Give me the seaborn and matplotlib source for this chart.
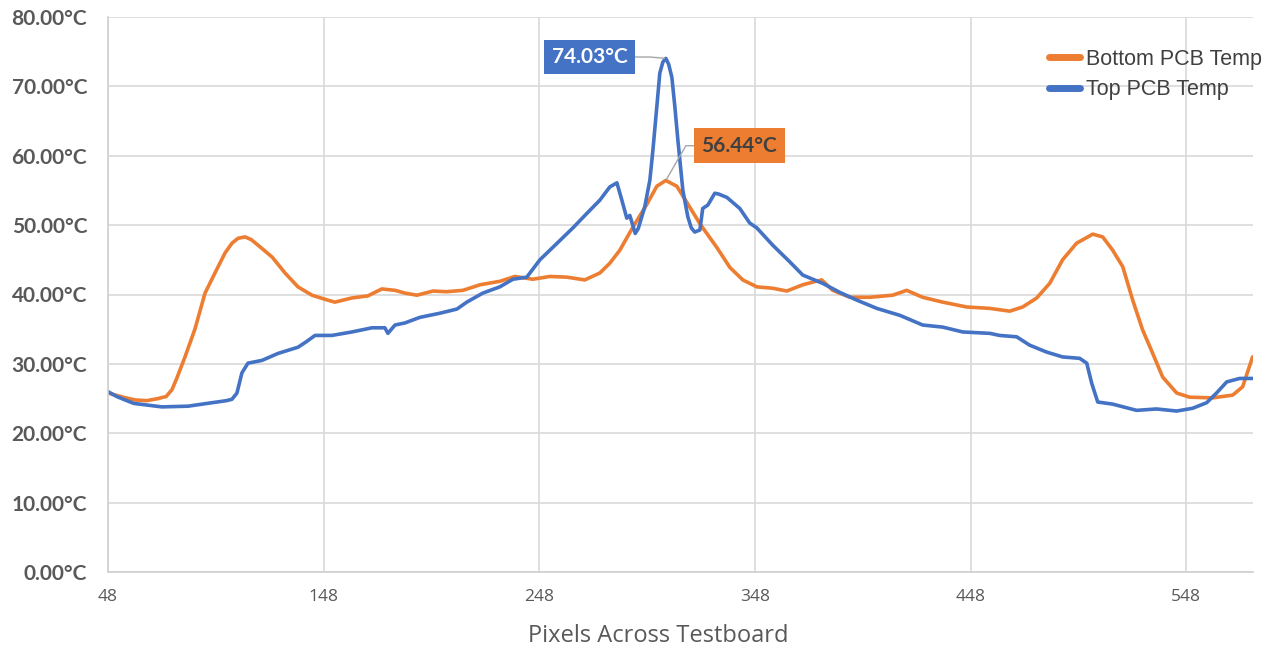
import numpy as np
import pandas as pd
import matplotlib
matplotlib.use("Agg")
import matplotlib.pyplot as plt
import seaborn as sns
from matplotlib.lines import Line2D

# Bottom PCB Temp (orange)
bottom_x = [48, 55, 60.5, 66, 71.2, 75, 77.7, 80, 83.7, 88.3, 93.0, 97.6, 102.3, 105.5, 108.3,
            111.6, 114.5, 117.6, 124.1, 130.1, 136.1, 142.6, 148.7, 153.2, 161.1, 168.5, 175.0,
            181.1, 185.7, 191.3, 198.7, 205, 212.6, 220.5, 229.7, 236.7, 245.0, 252.9, 260.8,
            269.1, 276.1, 280.7, 285.4, 291.4, 297.9, 302.5, 306.7, 311.8, 316.4, 322.5, 325.7,
            330.3, 336.4, 342.4, 348.9, 356.3, 362.8, 370.2, 375, 379.0, 384.1, 392.0, 401.3,
            411.9, 418.4, 425.8, 435.1, 446.2, 456.9, 466.2, 472.2, 478.7, 484.7, 490.7, 497.2,
            504.7, 509.3, 513.9, 518.6, 523.2, 527.8, 532.5, 537.1, 543.6, 549.6, 560.3, 569.6,
            574.2, 578.8]
bottom_y = [25.8, 25.2, 24.8, 24.7, 25.0, 25.3, 26.3, 28.0, 31.0, 35.0, 40.2, 43.1, 46.0, 47.4, 48.1,
            48.3, 47.9, 47.1, 45.4, 43.1, 41.1, 39.9, 39.3, 38.9, 39.5, 39.8, 40.8,
            40.6, 40.2, 39.9, 40.5, 40.4, 40.6, 41.4, 41.9, 42.6, 42.2, 42.6, 42.5,
            42.1, 43.1, 44.5, 46.4, 49.7, 53.0, 55.6, 56.44, 55.6, 53.3, 50.2, 48.8,
            46.8, 43.9, 42.1, 41.1, 40.9, 40.5, 41.4, 41.8, 42.1, 40.6, 39.6, 39.6,
            39.9, 40.6, 39.6, 38.9, 38.2, 38.0, 37.6, 38.2, 39.5, 41.6, 45.0, 47.4,
            48.7, 48.3, 46.4, 44.0, 39.2, 34.9, 31.5, 28.1, 25.8, 25.2, 25.1, 25.5,
            26.7, 31.0]

# Top PCB Temp (blue)
top_x = [48, 52, 55.9, 60, 65.2, 73.0, 85.1, 96.2, 103, 105.5, 107.8, 110.1, 112.9, 119.4, 126.8,
         136.1, 140, 144.0, 151.8, 161.1, 170.4, 176.4, 177.8, 181.1, 185.7, 192.6, 201.9, 209.8,
         214.4, 221.8, 229.7, 235.8, 242.2, 248.3, 254.3, 263.6, 270.1, 276.1, 280.7, 284.0,
         286.3, 288.6, 290.0, 292.5, 293.9, 296.9, 299.3, 300.7, 302.5, 303.9, 305.3, 306.7,
         308, 309.5, 310.9, 312.3, 314.6, 316.9, 318.5, 320.1, 322.5, 323.8, 326.2, 329.4,
         331, 335.0, 341.0, 345.6, 348.9, 356.3, 364.2, 370.2, 379.5, 387.4, 395.2, 404.5,
         415.2, 425.8, 435.1, 444.4, 456.9, 461.5, 469.4, 475.4, 483.3, 490.7, 498.6, 501.9,
         504.2, 507.0, 513.9, 525.0, 534.3, 543.6, 551.0, 557.5, 562.1, 566.8, 572.8, 578.8]
top_y = [26.0, 25.3, 24.8, 24.3, 24.1, 23.8, 23.9, 24.4, 24.7, 24.9, 25.8, 28.7, 30.1, 30.5, 31.5,
         32.4, 33.2, 34.1, 34.1, 34.6, 35.2, 35.2, 34.4, 35.6, 35.9, 36.7, 37.3, 37.9,
         38.9, 40.2, 41.1, 42.2, 42.5, 45.0, 46.8, 49.6, 51.7, 53.6, 55.5, 56.1,
         53.6, 51.0, 51.4, 48.8, 49.5, 52.6, 56.5, 60.8, 67.0, 71.9, 73.5, 74.03,
         73.2, 71.3, 67.0, 62.2, 55.0, 51.2, 49.6, 49.0, 49.3, 52.4, 52.9, 54.6,
         54.5, 54.0, 52.4, 50.3, 49.6, 47.1, 44.7, 42.8, 41.6, 40.3, 39.2, 38.0,
         37.0, 35.6, 35.3, 34.6, 34.4, 34.1, 33.9, 32.7, 31.7, 31.0, 30.8, 30.1,
         27.2, 24.5, 24.2, 23.3, 23.5, 23.2, 23.6, 24.4, 25.8, 27.4, 27.9, 27.9]

series_names = ["Bottom PCB Temp", "Top PCB Temp"]
series_colors = {"Bottom PCB Temp": "#ED7D31", "Top PCB Temp": "#4472C4"}
x_ticks = [48, 148, 248, 348, 448, 548]
y_ticks = [0, 10, 20, 30, 40, 50, 60, 70, 80]

df = pd.concat([
    pd.DataFrame({"px": bottom_x, "temp": bottom_y, "series": series_names[0]}),
    pd.DataFrame({"px": top_x, "temp": top_y, "series": series_names[1]}),
], ignore_index=True)

sns.set_theme(style="whitegrid")
plt.rcParams["font.family"] = ["Lato", "DejaVu Sans"]

fig = plt.figure(figsize=(12.75, 6.51), dpi=100)
ax = fig.add_axes([108 / 1275, 1 - 572 / 651, (1253 - 108) / 1275, (572 - 17) / 651])

sns.lineplot(data=df, x="px", y="temp", hue="series", palette=series_colors,
             hue_order=series_names, sort=False, estimator=None, lw=2.6, ax=ax, legend=False)
for ln in ax.get_lines():
    ln.set_solid_joinstyle("round")
    ln.set_solid_capstyle("round")

ax.set_xlim(48, 579)
ax.set_ylim(0, 80)
ax.set_xticks(x_ticks)
ax.set_yticks(y_ticks)
ax.set_yticklabels([f"{v:.2f}°C" for v in y_ticks], fontsize=15, fontweight="bold", color="#595959")
ax.set_xticklabels([str(v) for v in x_ticks], fontsize=12.5, color="#595959", family=["Open Sans", "DejaVu Sans"])
ax.tick_params(axis="y", length=0, pad=15)
ax.tick_params(axis="x", length=0, pad=12)
ax.set_xlabel("")
ax.set_ylabel("")
ax.grid(True, color="#D9D9D9", lw=1.2)
for side in ["top", "right"]:
    ax.spines[side].set_visible(False)
for side in ["left", "bottom"]:
    ax.spines[side].set_color("#D0D0D0")
    ax.spines[side].set_linewidth(1.2)

fig.text(658 / 1275, 1 - 636 / 651, "Pixels Across Testboard", ha="center", va="center",
         fontsize=17, color="#595959", family=["Open Sans", "DejaVu Sans"])

# peak callouts
i_top = int(np.argmax(top_y))
i_bot = int(np.argmax(bottom_y))
ax.annotate(f"{top_y[i_top]:.2f}°C", xy=(top_x[i_top], top_y[i_top]), xytext=(-55, 1),
            textcoords="offset points", ha="center", va="center", fontsize=15, fontweight="bold",
            color="white",
            bbox=dict(boxstyle="square,pad=0.35", fc="#4472C4", ec="none"),
            arrowprops=dict(arrowstyle="-", color="#A6A6A6", lw=1,
                            connectionstyle="angle,angleA=0,angleB=175,rad=0", shrinkA=0, shrinkB=1))
ax.annotate(f"{bottom_y[i_bot]:.2f}°C", xy=(bottom_x[i_bot], bottom_y[i_bot]), xytext=(53, 25),
            textcoords="offset points", ha="center", va="center", fontsize=15, fontweight="bold",
            color="#404040",
            bbox=dict(boxstyle="square,pad=0.35", fc="#ED7D31", ec="none"),
            arrowprops=dict(arrowstyle="-", color="#A6A6A6", lw=1,
                            connectionstyle="angle,angleA=0,angleB=60,rad=0", shrinkA=0, shrinkB=1))

handles = [Line2D([], [], color=series_colors[n], lw=5) for n in series_names]
ax.legend(handles, series_names, loc="upper left", bbox_to_anchor=(1038 / 1275, 1 - 38 / 651),
          bbox_transform=fig.transFigure, frameon=False,
          prop={"family": ["Liberation Sans", "DejaVu Sans"], "size": 15.5},
          handlelength=1.45, handletextpad=0.3, labelspacing=0.45, borderpad=0, labelcolor="#404040")

fig.savefig("out.png", dpi=100)
